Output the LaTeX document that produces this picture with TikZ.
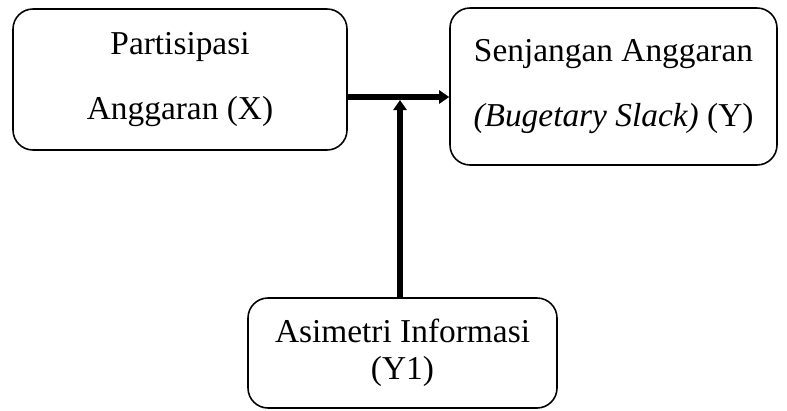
\documentclass[tikz,border=0pt]{standalone}
\usepackage{fontspec}
\setmainfont{Liberation Serif}
\usetikzlibrary{arrows.meta,positioning}
\tikzset{box/.style={draw, line width=0.9pt, rounded corners=0.4cm, align=center, font=\fontsize{19}{21}\selectfont},
         link/.style={line width=3.2pt, -{Triangle[length=0.2cm,width=0.26cm]}}}

\begin{document}
\begin{tikzpicture}
    \useasboundingbox (0,0) rectangle (15.74,-8.2);
    \node[box, minimum width=6.68cm, minimum height=2.82cm] (partisipasi) at (3.6,-1.59)
        {Partisipasi\\[0.55cm] Anggaran (X)};
    \node[box, minimum width=6.54cm, minimum height=3.14cm] (senjangan) at (12.27,-1.73)
        {Senjangan Anggaran\\[0.55cm] \textit{(Bugetary Slack)} (Y)};
    \node[box, minimum width=6.18cm, minimum height=2.2cm] (asimetri) at (8.05,-7.06)
        {Asimetri Informasi\\ (Y1)};

    \coordinate (join) at (8.0,-1.94);
    \path (partisipasi.east |- join) edge [link] (senjangan.west |- join)
          (asimetri.north -| join) edge [link, shorten >=0.06cm] (join)
          ;
\end{tikzpicture}
\end{document}
